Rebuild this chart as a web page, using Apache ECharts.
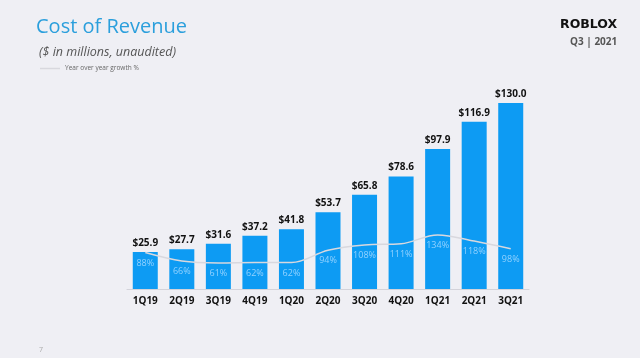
<!DOCTYPE html>
<html><head><meta charset="utf-8">
<script src="https://cdn.jsdelivr.net/npm/echarts@6/dist/echarts.min.js"></script>
<style>html,body{margin:0;padding:0;background:#efeff4;}#c{width:640px;height:358px;}</style>
</head><body><div id="c"></div>
<script>
const categories = ['1Q19','2Q19','3Q19','4Q19','1Q20','2Q20','3Q20','4Q20','1Q21','2Q21','3Q21'];
const costOfRevenue = [25.9, 27.7, 31.6, 37.2, 41.8, 53.7, 65.8, 78.6, 97.9, 116.9, 130.0];
const yoyGrowth = [88, 66, 61, 62, 62, 94, 108, 111, 134, 118, 98];

const chart = echarts.init(document.getElementById('c'), null, {renderer: 'canvas'});
const font = '"Open Sans", "Noto Sans", sans-serif';
chart.setOption({
  backgroundColor: '#efeff4',
  animation: false,
  title: [
    {text: 'Cost of Revenue', left: 31, top: 12, textStyle: {fontFamily: font, fontSize: 20, fontWeight: 'normal', color: '#2b9fdc'}},
    {text: '($ in millions, unaudited)', left: 34, top: 41, textStyle: {fontFamily: font, fontSize: 12.5, fontStyle: 'italic', fontWeight: 'normal', color: '#555'}},
    {text: 'ROBLOX', left: 555, top: 13, textStyle: {fontFamily: '"DejaVu Sans", sans-serif', fontSize: 12.5, fontWeight: 'bold', color: '#111'}},
    {text: 'Q3 | 2021', left: 565, top: 32, textStyle: {fontFamily: font, fontSize: 10, fontWeight: 'bold', color: '#555'}},
    {text: '7', left: 34, top: 341, textStyle: {fontFamily: font, fontSize: 7, fontWeight: 'normal', color: '#aaa'}}
  ],
  legend: {
    data: [{name: 'Year over year growth %', icon: 'rect', itemStyle: {color: '#d8d8de', opacity: 1}}],
    left: 35, top: 60, itemWidth: 20, itemHeight: 1.5, itemGap: 2,
    textStyle: {fontFamily: font, fontSize: 6.5, color: '#666'}
  },
  grid: {left: 127, right: 111, top: 60, bottom: 69, containLabel: false},
  xAxis: {
    type: 'category', data: categories,
    axisLine: {show: true, lineStyle: {color: '#d3d3da', width: 1}},
    axisTick: {show: false},
    axisLabel: {fontFamily: font, fontSize: 10, fontWeight: 'bold', color: '#111', margin: 7}
  },
  yAxis: [
    {type: 'value', min: 0, max: 160, show: false, splitLine: {show: false}},
    {type: 'value', min: -7, max: 590, show: false, splitLine: {show: false}}
  ],
  series: [
    {
      name: 'Cost of Revenue', type: 'bar', data: costOfRevenue, barWidth: 25,
      itemStyle: {color: '#0d9bf3'},
      label: {show: true, position: 'top', distance: 4, formatter: p => '$' + p.value.toFixed(1),
        fontFamily: font, fontSize: 10, fontWeight: 'bold', color: '#111'}
    },
    {
      name: 'Year over year growth %', type: 'line', yAxisIndex: 1, data: yoyGrowth, smooth: 0.35,
      symbol: 'circle', symbolSize: 2, showSymbol: true,
      lineStyle: {color: '#d8d8de', width: 1.5}, itemStyle: {color: 'rgba(216,216,222,0)', borderWidth: 0},
      label: {show: true, position: 'bottom', distance: 5, formatter: p => p.value + '%',
        fontFamily: font, fontSize: 9, color: '#92d2ff'},
      labelLayout: {hideOverlap: false}
    }
  ]
});
</script></body></html>
